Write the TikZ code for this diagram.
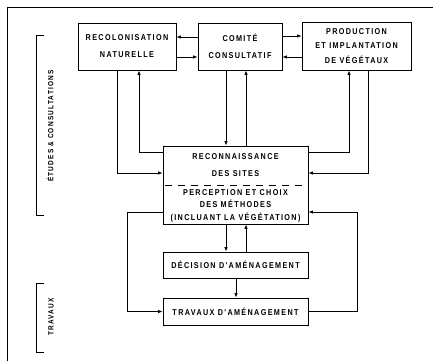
\documentclass[tikz,border=0pt]{standalone}
\usepackage{fontspec}
\usetikzlibrary{arrows.meta}
\newfontfamily\schemafont[FakeStretch=0.85,LetterSpace=16]{Liberation Sans}

\begin{document}
\begin{tikzpicture}[x=1pt,y=-1pt,
  boite/.style={draw, line width=0.8pt, inner sep=0pt, align=center,
    font=\schemafont\bfseries\fontsize{8.5}{15}\selectfont},
  texte/.style={inner sep=0pt, align=center,
    font=\schemafont\bfseries\fontsize{8.5}{12.8}\selectfont},
  cote/.style={inner sep=0pt, rotate=90,
    font=\schemafont\bfseries\fontsize{7.6}{9}\selectfont},
  fleche/.style={line width=0.8pt, -{Latex[length=4.5pt,width=3.5pt]}},
  trait/.style={line width=0.8pt}]
\useasboundingbox (0,0) rectangle (433,361);

% cadre
\draw [trait] (7,361) -- (7,7) -- (433,7);

% boites du haut
\node [boite, minimum width=98pt, minimum height=47pt,
  font=\schemafont\bfseries\fontsize{8.5}{17}\selectfont] (recol) at (127,46.5) {RECOLONISATION\\NATURELLE};
\node [boite, minimum width=84pt, minimum height=47pt,
  font=\schemafont\bfseries\fontsize{8.5}{17}\selectfont] (comite) at (240,46.5) {COMITÉ\\CONSULTATIF};
\node [boite, minimum width=109pt, minimum height=48pt,
  font=\schemafont\bfseries\fontsize{8.5}{14.5}\selectfont] (prod) at (356.5,46) {PRODUCTION\\ET IMPLANTATION\\DE VÉGÉTAUX};

% reconnaissance
\node [boite, minimum width=145pt, minimum height=78pt] (reco) at (235.5,185) {};
\node [texte, font=\schemafont\bfseries\fontsize{8.5}{17}\selectfont] (recohaut) at (235.5,165.5) {RECONNAISSANCE\\DES SITES};
\node [texte] (recobas) at (235.5,205.8) {PERCEPTION ET CHOIX\\DES MÉTHODES\\(INCLUANT LA VÉGÉTATION)};
\draw [trait, dash pattern=on 7pt off 6pt] (165,185) -- (306,185);

% boites du bas
\node [boite, minimum width=145pt, minimum height=26pt] (decis) at (235.5,265) {DÉCISION D'AMÉNAGEMENT};
\node [boite, minimum width=145pt, minimum height=27pt] (trav) at (235.5,311.5) {TRAVAUX D'AMÉNAGEMENT};

% fleches du haut
\draw [fleche] (comite.west |- 0,37) -- (recol.east |- 0,37);
\draw [fleche] (recol.east |- 0,57) -- (comite.west |- 0,57);
\draw [fleche] (comite.east |- 0,36) -- (prod.west |- 0,36);
\draw [fleche] (prod.west |- 0,57) -- (comite.east |- 0,57);

% vers et depuis la reconnaissance
\draw [fleche] (recol.south -| 117,0) |- (reco.west |- 0,173);
\draw [fleche] (reco.west |- 0,152) -| (recol.south -| 139,0);
\draw [fleche] (comite.south -| 226,0) -- (reco.north -| 226,0);
\draw [fleche] (reco.north -| 246,0) -- (comite.south -| 246,0);
\draw [fleche] (reco.east |- 0,152) -| (prod.south -| 349,0);
\draw [fleche] (prod.south -| 368,0) |- (reco.east |- 0,173);

% vers le bas
\draw [fleche] (reco.south -| 226,0) -- (decis.north -| 226,0);
\draw [fleche] (decis.north -| 246,0) -- (reco.south -| 246,0);
\draw [fleche] (decis.south -| 236,0) -- (trav.north -| 236,0);
\draw [fleche] (reco.west |- 0,212) -| (trav.west -| 127,0) -- (trav.west);
\draw [fleche] (trav.east) -- (trav.east -| 357,0) |- (reco.east |- 0,212);

% accolades
\draw [trait] (44,35) -- (36,35) -- (36,215) -- (44,215);
\node [cote] (etudes) at (50,126) {ÉTUDES \& CONSULTATIONS};
\draw [trait] (44,283) -- (36,283) -- (36,352) -- (44,352);
\node [cote] (travaux) at (51,317) {TRAVAUX};

\end{tikzpicture}
\end{document}
